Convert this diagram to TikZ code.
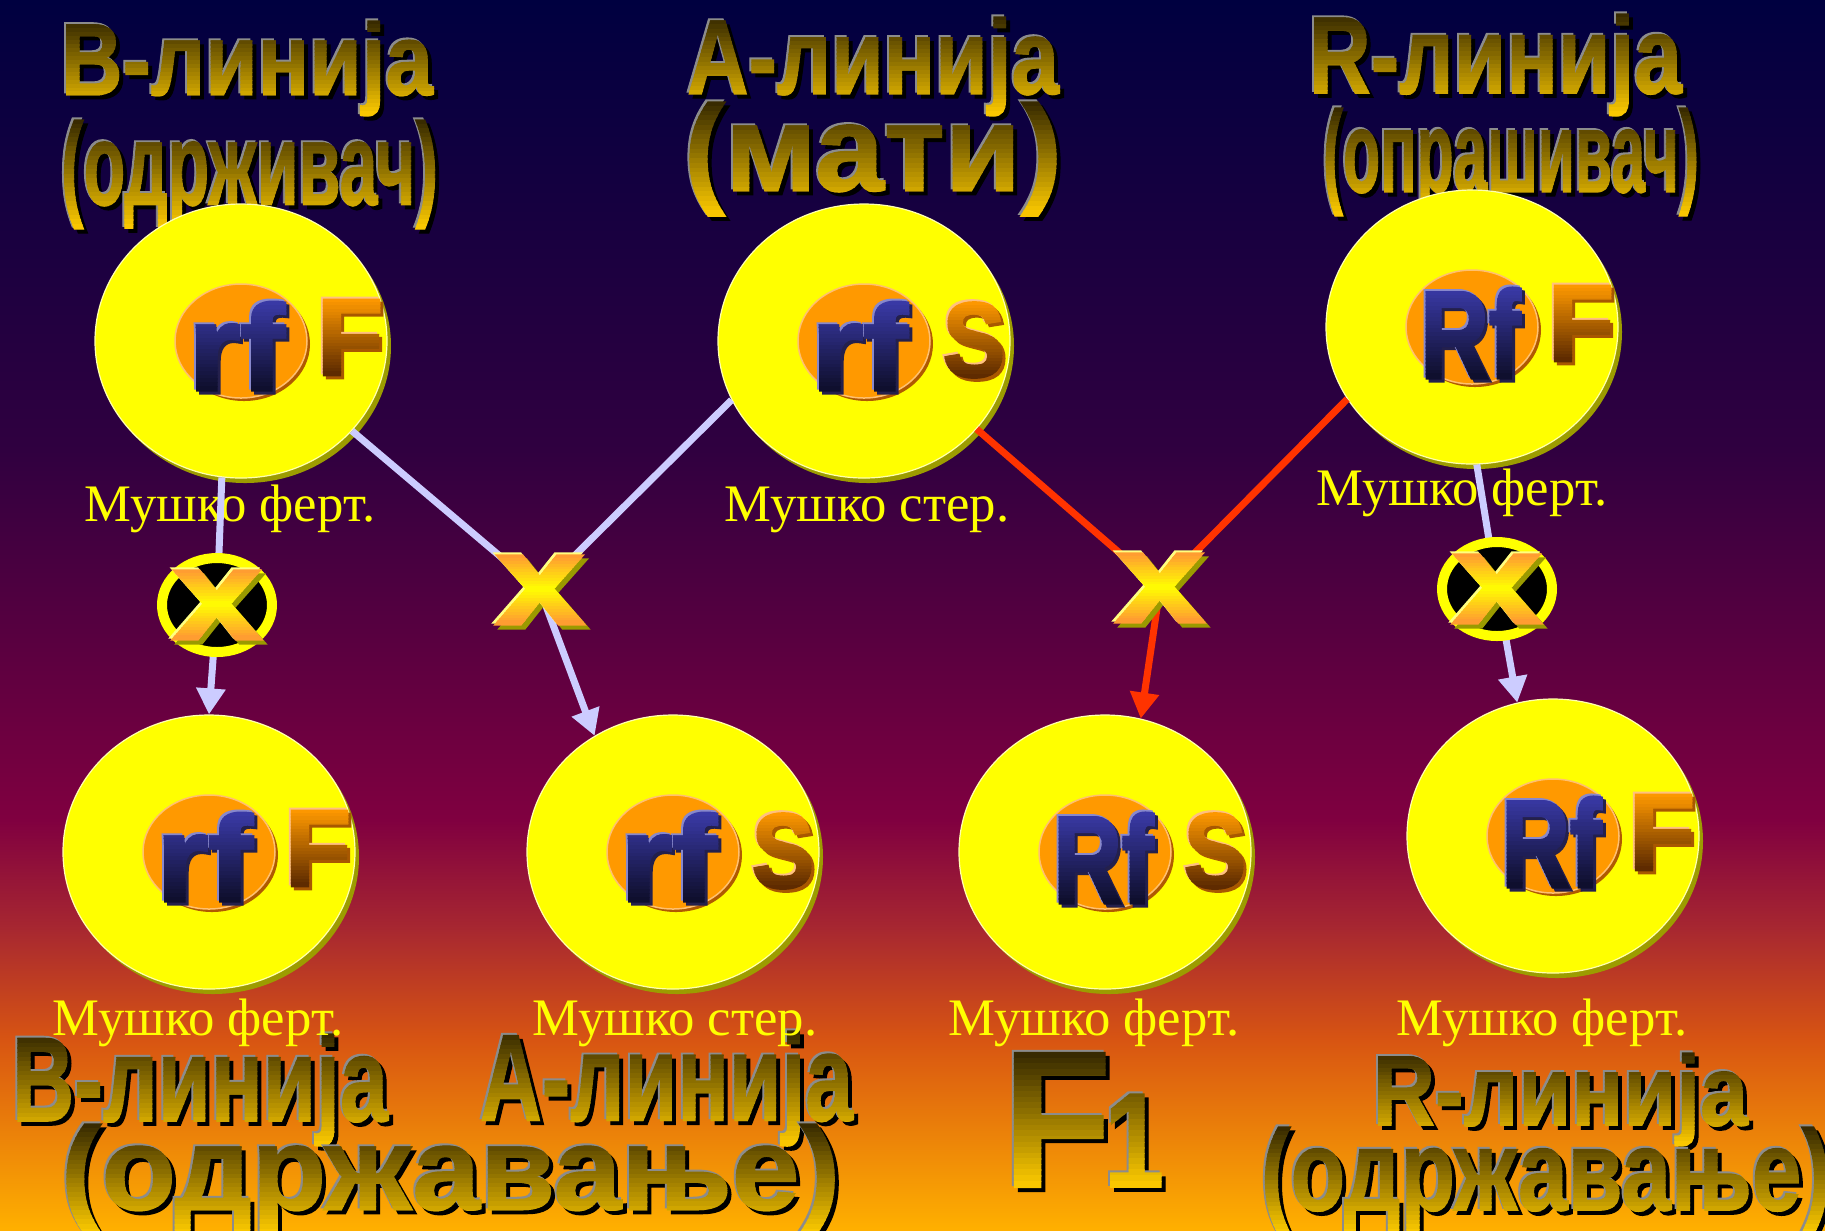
\documentclass[tikz,border=0pt]{standalone}
\usepackage{fontspec}
\usepackage{graphicx}
\setmainfont{Liberation Serif}
\setsansfont{Liberation Sans}
\newfontfamily\ttlfont{Liberation Sans Bold}[FakeBold=1.2]
\newfontfamily\heavyfont{Liberation Sans Bold}[FakeBold=2.5]
\usetikzlibrary{shapes.geometric,arrows.meta}
\newdimen\pxu \pxu=0.1mm
\definecolor{bg0}{HTML}{000040}
\definecolor{bg1}{HTML}{300040}
\definecolor{bg2}{HTML}{800040}
\definecolor{bg3}{HTML}{A82830}
\definecolor{bg4}{HTML}{D85512}
\definecolor{bg5}{HTML}{FFB000}
\definecolor{gtop}{HTML}{342700}
\definecolor{gbot}{HTML}{FFCC00}
\definecolor{gedge}{HTML}{8C8C8C}
\definecolor{navytop}{HTML}{3A3AA8}
\definecolor{navybot}{HTML}{0E0E2A}
\definecolor{navyedge}{HTML}{8888CC}
\definecolor{navysh}{HTML}{24204C}
\definecolor{ortop}{HTML}{FF9900}
\definecolor{orbot}{HTML}{5A2800}
\definecolor{oredge}{HTML}{FFC080}
\definecolor{orsh}{HTML}{A85800}
\definecolor{xedge}{HTML}{FF9933}
\definecolor{xmid}{HTML}{FFFF00}
\definecolor{xsh}{HTML}{9A9A00}
\definecolor{xhl}{HTML}{FFFF80}
\definecolor{lav}{HTML}{CCCCFF}
\definecolor{redl}{HTML}{FF3300}
\definecolor{ylw}{HTML}{FFFF00}
\definecolor{ylwhl}{HTML}{FFFFB0}
\definecolor{ylwsh}{HTML}{9C9C00}
\definecolor{orin}{HTML}{FF9900}
\definecolor{orhl}{HTML}{FFC070}
\definecolor{orsh2}{HTML}{B05A00}

% gradient text: style setter and drawer
\newcommand\gset[7]{\def\gsh{#1}\def\ged{#2}\def\gta{#3}\def\gtb{#4}\def\gmode{#5}\def\gso{#6}\def\gfont{#7}}
\newcommand\gtext[6]{%
  \node[gt,text=\gsh] (#1-s) at (#2+\gso,#3+\gso) {\gfont\resizebox*{#4\pxu}{#5\pxu}{#6}};
  \node[gt,text=\ged] (#1-e) at (#2-2,#3-2) {\gfont\resizebox*{#4\pxu}{#5\pxu}{#6}};
  \foreach \i in {0,...,23}{%
    \pgfmathtruncatemacro\gp{\gmode==0 ? 100*(\i+0.5)/24 : 100*(1-abs(2*(\i+0.5)/24-1))}%
    \pgfmathsetmacro\gya{#3+#5*\i/24-((\i==0)?40:0.3)}%
    \pgfmathsetmacro\gyb{#3+#5*(\i+1)/24+((\i==23)?40:0.3)}%
    \edef\gcol{\gtb!\gp!\gta}%
    \begin{scope}
      \clip (#2-100,\gya) rectangle (#2+#4+100,\gyb);
      \node[gt,text=\gcol] (#1-\i) at (#2,#3) {\gfont\resizebox*{#4\pxu}{#5\pxu}{#6}};
    \end{scope}
  }%
}
\newcommand\ttl[6]{\gset{black}{gedge}{gtop}{gbot}{0}{4}{\ttlfont}\gtext{#1}{#2}{#3}{#4}{#5}{#6}}
\newcommand\cellnode[3]{%
  \node[bigsh] (#1-sh) at (#2+4,#3+5) {};
  \node[bigell] (#1) at (#2,#3) {};
  \node[orbsh] (#1-osh) at (#2+3,#3+3) {};
  \node[orb] (#1-o) at (#2,#3) {};
}
\newcommand\lettrf[3]{\gset{navysh}{navyedge}{navytop}{navybot}{0}{3}{\heavyfont}\gtext{#1-t}{#2-52.5}{#3-39}{96}{88}{rf}}
\newcommand\lettRf[3]{\gset{navysh}{navyedge}{navytop}{navybot}{0}{3}{\heavyfont}\gtext{#1-t}{#2-51.5}{#3-39}{100}{90}{Rf}}
\newcommand\lettF[3]{\gset{orsh}{oredge}{ortop}{orbot}{0}{3}{\heavyfont}\gtext{#1-r}{#2+76}{#3-41}{66}{75}{F}}
\newcommand\lettS[3]{\gset{orsh}{oredge}{ortop}{orbot}{0}{3}{\heavyfont}\gtext{#1-r}{#2+79}{#3-38.5}{62}{75}{S}}
\newcommand\xglyph[3]{\gset{xsh}{xhl}{xedge}{xmid}{1}{4}{\heavyfont}\gtext{#1}{#2-44}{#3-34}{88}{68}{x}}

\begin{document}
\begin{tikzpicture}[x=0.1mm,y=-0.1mm,
  gt/.style={anchor=north west, inner sep=0pt, outer sep=0pt, font=\fontsize{20}{24}\selectfont},
  bigell/.style={ellipse, fill=ylw, draw=ylwhl, line width=0.12mm, minimum width=29.2mm, minimum height=27.4mm, inner sep=0pt},
  bigsh/.style={ellipse, fill=ylwsh, minimum width=29.2mm, minimum height=27.4mm, inner sep=0pt},
  orb/.style={ellipse, fill=orin, draw=orhl, line width=0.15mm, minimum width=13.2mm, minimum height=11.4mm, inner sep=0pt},
  orbsh/.style={ellipse, fill=orsh2, minimum width=13.2mm, minimum height=11.4mm, inner sep=0pt},
  lbl/.style={text=ylw, anchor=base, inner sep=0pt, font=\fontsize{15}{18}\selectfont},
  lavl/.style={draw=lav, line width=0.7mm},
  redln/.style={draw=redl, line width=0.7mm},
  arrowhd/.style={-{Triangle[length=2.6mm,width=2.8mm]}},
  xring/.style={ellipse, fill=black, draw=ylw, line width=1mm, minimum width=11mm, minimum height=9.4mm, inner sep=0pt}]
\useasboundingbox (0,0) rectangle (1825,1230);
\clip (0,0) rectangle (1825,1230);
% background
\shade[top color=bg0,bottom color=bg1] (0,0) rectangle (1825,451);
\shade[top color=bg1,bottom color=bg2] (0,450) rectangle (1825,821);
\shade[top color=bg2,bottom color=bg3] (0,820) rectangle (1825,931);
\shade[top color=bg3,bottom color=bg4] (0,930) rectangle (1825,1041);
\shade[top color=bg4,bottom color=bg5] (0,1040) rectangle (1825,1230);

% titles
\ttl{tB1}{61}{21}{372}{95}{В-линија}
\ttl{tB2}{61}{120}{377}{109}{(одрживач)}
\ttl{tA1}{687}{17}{372}{99}{А-линија}
\ttl{tA2}{684}{102}{378}{114}{(мати)}
\ttl{tR1}{1309}{14}{373}{102}{R-линија}
\ttl{tR2}{1323}{108}{376}{108}{(опрашивач)}
\ttl{bB1}{12}{1034}{376}{112}{В-линија}
\ttl{bA1}{480}{1031}{373}{115}{А-линија}
\ttl{bB2}{61}{1124}{779}{110}{(одржавање)}
\ttl{bF1}{1003}{1053}{161}{134}{F\kern-0.04em\scalebox{0.58}[0.66]{\resizebox{!}{1.05\height}{1}}}
\ttl{bR1}{1373}{1053}{375}{93}{R-линија}
\ttl{bR2}{1261}{1127}{570}{107}{(одржавање)}

% cells
\cellnode{TB}{241}{341}\lettrf{TB}{241}{341}\lettF{TB}{241}{341}
\cellnode{TA}{864}{341}\lettrf{TA}{864}{341}\lettS{TA}{864}{341}
\cellnode{TR}{1472}{327}\lettRf{TR}{1472}{327}\lettF{TR}{1472}{327}
\cellnode{BB}{209}{852}\lettrf{BB}{209}{852}\lettF{BB}{209}{852}
\cellnode{BA}{673}{852}\lettrf{BA}{673}{852}\lettS{BA}{673}{852}
\cellnode{BF}{1105}{852}\lettRf{BF}{1105}{852}\lettS{BF}{1105}{852}
\cellnode{BR}{1553}{836}\lettRf{BR}{1553}{836}\lettF{BR}{1553}{836}

% labels
\node[lbl] (L1) at (230,521) {Мушко ферт.};
\node[lbl] (L2) at (867,521) {Мушко стер.};
\node[lbl] (L3) at (1462,505) {Мушко ферт.};
\node[lbl] (L4) at (198,1035) {Мушко ферт.};
\node[lbl] (L5) at (675,1035) {Мушко стер.};
\node[lbl] (L6) at (1094,1035) {Мушко ферт.};
\node[lbl] (L7) at (1542,1035) {Мушко ферт.};

% crossing points
\coordinate (c1) at (217,605);
\coordinate (c2) at (540,590);
\coordinate (c3) at (1160,588);
\coordinate (c4) at (1497,589);

% connectors
\draw[lavl] (TB.262) -- (c1);
\draw[lavl,arrowhd] (c1) -- (BB.north);
\draw[lavl] (TB.-39) -- (c2);
\draw[lavl] (TA.204) -- (c2);
\draw[lavl,arrowhd] (c2) -- (BA.124);
\draw[redln] (TA.-38) -- (c3);
\draw[redln] (TR.210) -- (c3);
\draw[redln,arrowhd] (c3) -- (BF.75);
\draw[lavl] (TR.272) -- (c4);
\draw[lavl,arrowhd] (c4) -- (BR.105);

% crosses
\node[xring] (r1) at (c1) {};
\node[xring] (r4) at (c4) {};
\xglyph{x1}{217}{605}
\xglyph{x2}{540}{590}
\xglyph{x3}{1160}{588}
\xglyph{x4}{1497}{589}
\end{tikzpicture}
\end{document}
